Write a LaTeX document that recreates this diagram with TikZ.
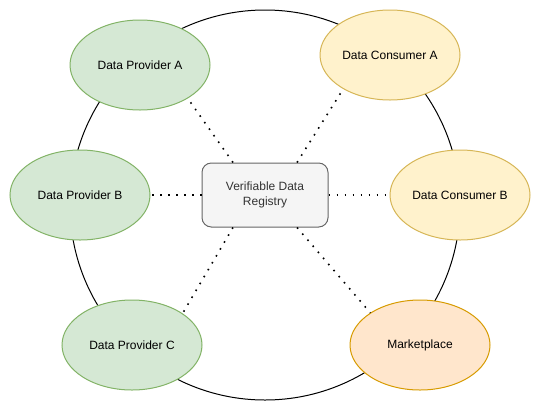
\documentclass[tikz,border=0pt]{standalone}
\usepackage{fontspec}
\setmainfont{Liberation Sans}
\definecolor{ProvFill}{HTML}{D5E8D4}
\definecolor{ProvLine}{HTML}{82B366}
\definecolor{ConsFill}{HTML}{FFF2CC}
\definecolor{ConsLine}{HTML}{D6B656}
\definecolor{MarketFill}{HTML}{FFE6CC}
\definecolor{MarketLine}{HTML}{D79B00}
\definecolor{RegFill}{HTML}{F5F5F5}
\definecolor{RegLine}{HTML}{666666}
\definecolor{RegText}{HTML}{333333}
\usetikzlibrary{shapes.geometric,calc}

\begin{document}
\begin{tikzpicture}[x=0.75pt,y=-0.75pt,
  party/.style={ellipse,minimum width=105pt,minimum height=67.5pt,inner sep=0pt,font=\fontsize{9}{11}\selectfont,line width=0.75pt},
  provider/.style={party,draw=ProvLine,fill=ProvFill},
  consumer/.style={party,draw=ConsLine,fill=ConsFill},
  link/.style={line width=1.2pt,dash pattern=on 1.2pt off 4.8pt}]
\useasboundingbox (0,0) rectangle (541,411);
% outer ring
\node[circle,draw,line width=0.75pt,minimum size=292.5pt,inner sep=0pt] (ring) at (265,205) {};
% registry in the middle
\node[draw=RegLine,fill=RegFill,rounded corners=7pt,minimum width=94.5pt,minimum height=48pt,align=center,text=RegText,font=\fontsize{9}{11}\selectfont,line width=0.75pt] (reg) at (265,195) {Verifiable Data\\Registry};
% parties
\node[provider] (provA) at (140,65) {Data Provider A};
\node[provider] (provB) at (80,195) {Data Provider B};
\node[provider] (provC) at (132,345) {Data Provider C};
\node[consumer] (consA) at (390,55) {Data Consumer A};
\node[consumer] (consB) at (460,195) {Data Consumer B};
\node[party,draw=MarketLine,fill=MarketFill] (market) at (420,345) {Marketplace};
% dotted links
\draw[link] ([xshift=-24pt]reg.north) -- (provA.-35);
\draw[link] ([xshift=24pt]reg.north) -- (consA.-144);
\draw[link] (reg.west) -- (provB.east);
\draw[link] (reg.east) -- (consB.west);
\draw[link] ([xshift=-24pt]reg.south) -- (provC.32);
\draw[link] ([xshift=24pt]reg.south) -- (market.147);
\end{tikzpicture}
\end{document}
